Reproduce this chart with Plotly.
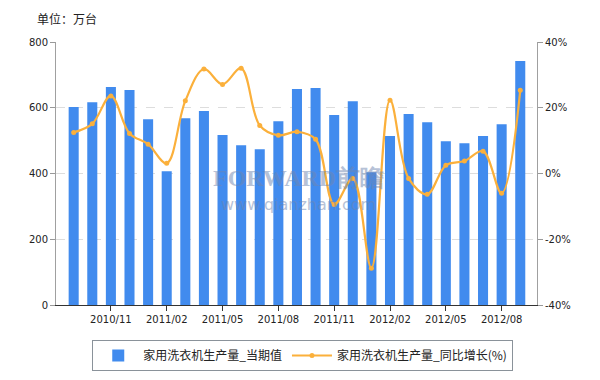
import plotly.graph_objects as go

months = ["2010/09","2010/10","2010/11","2010/12","2011/01","2011/02","2011/03","2011/04",
          "2011/05","2011/06","2011/07","2011/08","2011/09","2011/10","2011/11","2011/12",
          "2012/01","2012/02","2012/03","2012/04","2012/05","2012/06","2012/07","2012/08","2012/09"]
output_vals = [602, 617, 663, 654, 565, 407, 568, 590, 517, 486, 474, 559, 657,
               660, 578, 620, 404, 514, 581, 556, 498, 492, 514, 550, 742]
growth_pct = [12.5, 15.1, 23.6, 12.2, 8.9, 3.1, 22.1, 31.8, 27.1, 32.0, 14.6, 11.6, 12.7,
              10.4, -9.4, -1.5, -28.8, 22.3, -1.5, -6.3, 2.5, 3.8, 6.8, -6.0, 25.3]
tick_labels = ["2010/11","2011/02","2011/05","2011/08","2011/11","2012/02","2012/05","2012/08"]
pct_tick_vals = [-40, -20, 0, 20, 40]
pct_tick_text = ["-40%", "-20%", "0%", "20%", "40%"]

num_font = dict(family="DejaVu Sans, Verdana, sans-serif", size=10, color="#222222")
cjk = "Noto Sans CJK SC"

fig = go.Figure()
fig.add_trace(go.Bar(
    x=months, y=output_vals, name="家用洗衣机生产量_当期值",
    marker=dict(color="#418BEE", line=dict(width=0)), width=0.54, yaxis="y"))
fig.add_trace(go.Scatter(
    x=months, y=growth_pct, name="家用洗衣机生产量_同比增长(%)", yaxis="y2",
    mode="lines+markers", line=dict(color="#FBB03B", width=2.2, shape="spline", smoothing=1.0),
    marker=dict(color="#FBB03B", size=5)))

fig.update_layout(
    width=600, height=380,
    margin=dict(l=48, r=71, t=34, b=83, autoexpand=False),
    plot_bgcolor="white", paper_bgcolor="white",
    showlegend=True,
    legend=dict(orientation="h", x=0.513, xanchor="center", y=-0.133, yanchor="top",
                bordercolor="#8A929A", borderwidth=1, bgcolor="white",
                font=dict(family=cjk, size=12, color="#222222"),
                itemwidth=40),
    xaxis=dict(type="category", categoryorder="array", categoryarray=months,
               range=[-0.95, 24.9], automargin=False,
               tickmode="array", tickvals=tick_labels, ticktext=tick_labels,
               ticks="outside", ticklen=5, tickcolor="#333333",
               showline=True, linecolor="#333333", linewidth=1,
               showgrid=False, tickfont=num_font),
    yaxis=dict(range=[0, 800], dtick=200, ticks="outside", ticklen=5, tickcolor="#999999",
               showline=True, linecolor="#A0A0A0", linewidth=1, automargin=False,
               showgrid=True, gridcolor="#DDDDDD", griddash="dash", gridwidth=1,
               zeroline=False, tickfont=num_font),
    yaxis2=dict(range=[-40, 40], overlaying="y", side="right",
                tickmode="array", tickvals=pct_tick_vals, ticktext=pct_tick_text,
                ticks="outside", ticklen=5, tickcolor="#999999",
                showline=True, linecolor="#A0A0A0", linewidth=1, automargin=False,
                showgrid=False, zeroline=False, tickfont=num_font),
    bargap=0.46,
    annotations=[
        dict(text="单位：万台", xref="paper", yref="paper", x=-0.044, y=1.0, yshift=24,
             xanchor="left", yanchor="middle", showarrow=False,
             font=dict(family=cjk, size=12, color="#222222")),
        dict(text="<b>FORWARD前瞻</b>", xref="paper", yref="paper", x=0.505, y=0.425,
             xanchor="center", yanchor="bottom", showarrow=False, opacity=0.5,
             font=dict(family="Liberation Serif, serif", size=24, color="#6F86B0")),
        dict(text="www.qianzhan.com", xref="paper", yref="paper", x=0.505, y=0.425,
             xanchor="center", yanchor="top", showarrow=False, opacity=0.5,
             font=dict(family="DejaVu Sans, sans-serif", size=16, color="#6F86B0")),
    ],
)

fig.write_html("out.html")
